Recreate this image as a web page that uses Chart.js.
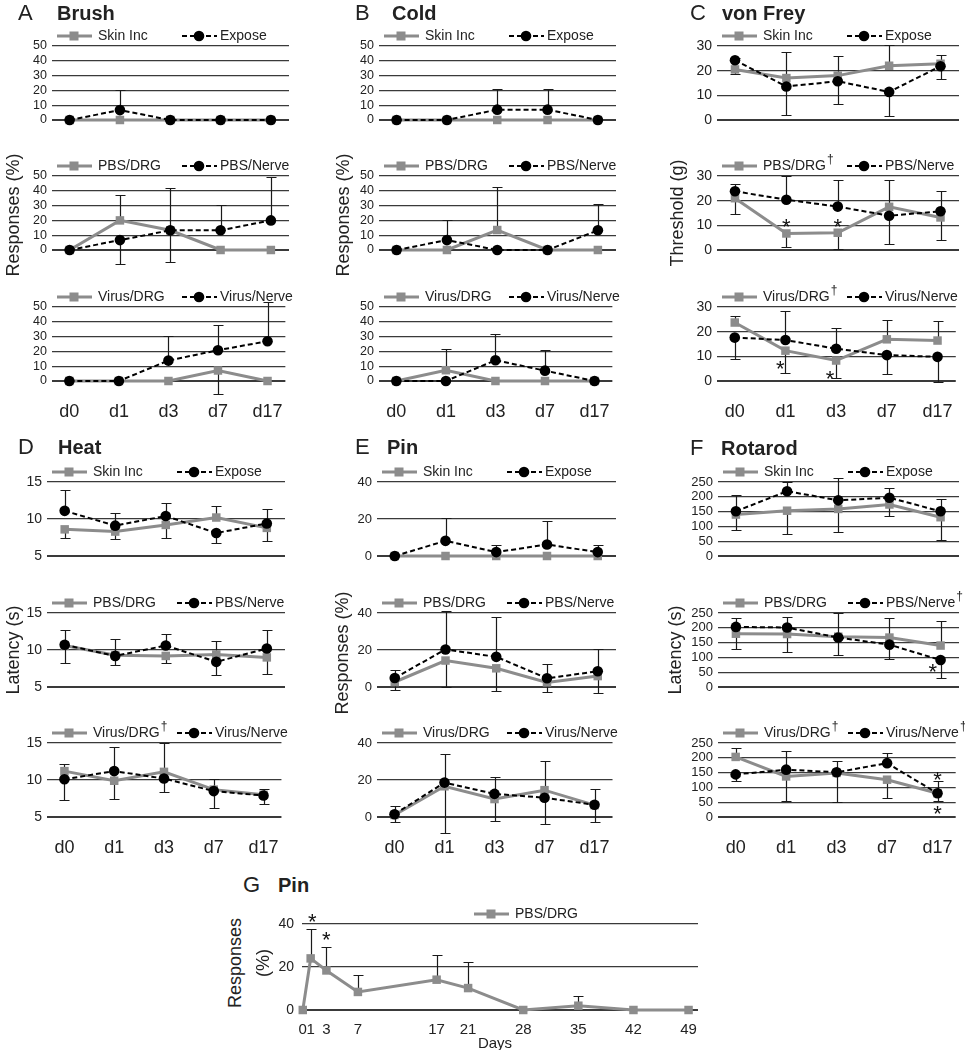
<!DOCTYPE html>
<html>
<head>
<meta charset="utf-8">
<script src="https://cdn.jsdelivr.net/npm/chart.js@4.4.1/dist/chart.umd.min.js"></script>
<style>
  body{margin:0;background:#fff;font-family:"Liberation Sans",Arial,sans-serif;color:#222;}
  #fig{position:relative;width:965px;height:1050px;overflow:hidden;}
  #fig canvas{position:absolute;}
  .txt{position:absolute;white-space:nowrap;line-height:1;}
  .vt{transform:translate(-50%,-50%) rotate(-90deg);}
</style>
</head>
<body>
<div id="fig"></div>
<script>
// ---------- data ----------
const DAYS = ["d0","d1","d3","d7","d17"];

// A Brush (% responses)
const brushSkin = [0,0,0,0,0],            brushSkinSD = [0,0,0,0,0];
const brushExpose = [0,6.7,0,0,0],        brushExposeSD = [0,13.7,0,0,0];
const brushPbsDrg = [0,20,13.3,0,0],      brushPbsDrgSD = [0,17.3,28.7,0,0];
const brushPbsNerve = [0,6.7,13.3,13.3,20], brushPbsNerveSD = [0,16.3,21.7,17.2,29];
const brushVirusDrg = [0,0,0,7.1,0],      brushVirusDrgSD = [0,0,0,15.8,0];
const brushVirusNerve = [0,0,13.8,20.8,26.9], brushVirusNerveSD = [0,0,16.7,17,26.7];

// B Cold
const coldSkin = [0,0,0,0,0],             coldSkinSD = [0,0,0,0,0];
const coldExpose = [0,0,7,7,0],           coldExposeSD = [0,0,13.8,13.8,0];
const coldPbsDrg = [0,0,13.5,0,0],        coldPbsDrgSD = [0,0,29,0,0];
const coldPbsNerve = [0,6.7,0,0,13.3],    coldPbsNerveSD = [0,13.7,0,0,17.5];
const coldVirusDrg = [0,7.3,0,0,0],       coldVirusDrgSD = [0,14,0,0,0];
const coldVirusNerve = [0,0,14,7,0],      coldVirusNerveSD = [0,0,18,14.2,0];

// C von Frey (threshold g)
const vfSkin = [20.5,17,18,22,22.8],      vfSkinSD = [1.8,10.4,8,8.3,3.7];
const vfExpose = [24.2,13.6,15.7,11.4,21.8], vfExposeSD = [1,11.4,9.2,9.8,5.1];
const vfPbsDrg = [21,6.7,7,17.5,13.2],    vfPbsDrgSD = [6.3,5.5,6.4,10.7,9];
const vfPbsNerve = [23.8,20.4,17.6,13.9,15.7], vfPbsNerveSD = [2.8,9.6,10.6,11.4,8.3];
const vfVirusDrg = [23.7,12.3,8.3,16.9,16.4], vfVirusDrgSD = [2.8,9,7.1,7.9,8.1];
const vfVirusNerve = [17.6,16.6,13.1,10.5,9.8], vfVirusNerveSD = [8.6,11.6,8.4,7.5,10.4];
const vfPbsStars = [[1,11.5],[2,11.5]];
const vfVirusStars = [[0.9,7],[1.88,3]];

// D Heat (latency s)
const heatSkin = [8.6,8.3,9.2,10.2,8.8],  heatSkinSD = [1.1,1,1.8,1.5,1.75];
const heatExpose = [11.1,9.1,10.4,8.1,9.4], heatExposeSD = [2.8,1.7,1.8,1.3,1.9];
const heatPbsDrg = [10.6,9.3,9.2,9.4,9.0], heatPbsDrgSD = [2.4,2.2,0.9,1.8,2.3];
const heatPbsNerve = [10.7,9.2,10.6,8.4,10.2], heatPbsNerveSD = [2.0,1.2,1.5,1.8,2.55];
const heatVirusDrg = [11.2,9.9,11.1,8.7,8.0], heatVirusDrgSD = [1.0,2.5,3.9,1.4,0.8];
const heatVirusNerve = [10.1,11.2,10.2,8.5,7.9], heatVirusNerveSD = [2.8,3.3,1.8,2.3,1.1];

// E Pin (% responses)
const pinSkin = [0,0,0,0,0],              pinSkinSD = [0,0,0,0,0];
const pinExpose = [0,8.2,2.1,6.2,2.1],    pinExposeSD = [0,12.2,4,12.9,4];
const pinPbsDrg = [2.7,14.3,10.1,2.5,5.9], pinPbsDrgSD = [4.5,14.3,12.4,5.2,9.1];
const pinPbsNerve = [4.9,20.3,16.3,4.7,8.5], pinPbsNerveSD = [4.3,21,21.5,7.7,12.2];
const pinVirusDrg = [1.1,16.6,9.7,14.5,6.4], pinVirusDrgSD = [3.8,25,11.7,15.9,9.3];
const pinVirusNerve = [1.5,18.6,12.5,10.4,6.6], pinVirusNerveSD = [4.6,15.7,9.3,14.1,8.4];

// F Rotarod (latency s)
const rotSkin = [140,153,159,174,131],    rotSkinSD = [52,79,78,39,76];
const rotExpose = [151,219,188,197,151],  rotExposeSD = [55,30,76,32,43];
const rotPbsDrg = [180,179,170,167,140],  rotPbsDrgSD = [50,60,80,66,82];
const rotPbsNerve = [203,201,167,143,91], rotPbsNerveSD = [29,36,58,49,60];
const rotVirusDrg = [203,137,149,126,80], rotVirusDrgSD = [31,83,99,61,40];
const rotVirusNerve = [144,160,151,182,80], rotVirusNerveSD = [22,63,38,35,26];
const rotPbsStars = [[3.85,68]];
const rotVirusStars = [[4,142],[4,29]];

// G Pin time course
const gDays = [0,1,3,7,17,21,28,35,42,49];
const gPbsDrg = [0,24,18.4,8.4,14.1,10.2,0,2,0,0];
const gPbsDrgSD = [0,13.7,11,8,11.5,12,0,4.4,0,0];
const gStars = [[1.2,43.5],[3,35]];

// ---------- drawing ----------
Chart.defaults.font.family = '"Liberation Sans", Arial, sans-serif';
Chart.defaults.color = "#222";
const fig = document.getElementById("fig");
const GRAY = "#8c8c8c";

const errorBars = {
  id:"errorBars",
  beforeDatasetsDraw(chart){
    const {ctx, scales:{x, y}} = chart;
    const ds = chart.data.datasets;
    ctx.save();
    ctx.strokeStyle = "#1a1a1a"; ctx.lineWidth = 1.2;
    ds.forEach((d,i) => {
      const other = ds.length > 1 ? ds[1-i] : null;
      d.data.forEach((pt,j) => {
        const e = d.sd[j];
        if(!e) return;
        let dir = 1;
        if(other){
          const o = other.data[j].y;
          dir = pt.y > o ? 1 : pt.y < o ? -1 : (i === 0 ? 1 : -1);
        }
        const px = Math.round(x.getPixelForValue(pt.x)) + 0.5;
        const py = y.getPixelForValue(pt.y);
        const pe = Math.round(y.getPixelForValue(pt.y + dir*e)) + 0.5;
        ctx.beginPath();
        ctx.moveTo(px, py); ctx.lineTo(px, pe);
        ctx.moveTo(px-5, pe); ctx.lineTo(px+5, pe);
        ctx.stroke();
      });
    });
    ctx.restore();
  }
};

function legendPlugin(offsets){
  return {
    id:"legendRow",
    afterDraw(chart){
      const {ctx, chartArea:{left, top}} = chart;
      const ly = top - 10;
      ctx.save();
      chart.data.datasets.forEach((d,i) => {
        const x0 = left + offsets[i];
        ctx.strokeStyle = d.borderColor; ctx.fillStyle = d.borderColor;
        ctx.lineWidth = d.borderWidth;
        ctx.setLineDash(d.borderDash || []);
        ctx.beginPath(); ctx.moveTo(x0, ly); ctx.lineTo(x0 + 35, ly); ctx.stroke();
        ctx.setLineDash([]);
        if(d.pointStyle === "rect") ctx.fillRect(x0 + 17 - 4.5, ly - 4.5, 9, 9);
        else { ctx.beginPath(); ctx.arc(x0 + 17, ly, 5.3, 0, Math.PI*2); ctx.fill(); }
        ctx.fillStyle = "#222";
        ctx.font = '14px "Liberation Sans", Arial, sans-serif';
        ctx.textBaseline = "middle"; ctx.textAlign = "left";
        const label = d.label.replace("†","");
        const tx = x0 + (d.pointStyle === "rect" ? 41 : 38);
        ctx.fillText(label, tx, ly);
        if(d.label.indexOf("†") >= 0){
          const w = ctx.measureText(label).width;
          ctx.font = '12px "Liberation Sans", Arial, sans-serif';
          ctx.fillText("†", tx + w + 1, ly - 6);
        }
      });
      ctx.restore();
    }
  };
}

function starPlugin(stars){
  return {
    id:"stars",
    afterDatasetsDraw(chart){
      if(!stars) return;
      const {ctx, scales:{x, y}} = chart;
      ctx.save();
      ctx.fillStyle = "#111";
      ctx.font = '22px "Liberation Sans", Arial, sans-serif';
      ctx.textAlign = "center"; ctx.textBaseline = "alphabetic";
      stars.forEach(([sx, sy]) => ctx.fillText("*", x.getPixelForValue(sx), y.getPixelForValue(sy) + 12.5));
      ctx.restore();
    }
  };
}

function tickList(min, max, step){
  const t = [];
  for(let v = min; v <= max + 1e-9; v += step) t.push({value:v});
  return t;
}

function series(label, vals, sd, xs, black){
  const base = {
    label, sd, clip:false, tension:0,
    data: vals.map((v,i) => ({x: xs ? xs[i] : i, y: v})),
    pointBorderWidth:0, pointHoverRadius:0
  };
  if(black) return Object.assign(base, {
    borderColor:"#000", backgroundColor:"#000", borderWidth:2, borderDash:[5,3],
    pointStyle:"circle", pointRadius:5.3, pointBackgroundColor:"#000", order:0
  });
  return Object.assign(base, {
    borderColor:GRAY, backgroundColor:GRAY, borderWidth:3,
    pointStyle:"rect", pointRadius:6, pointBackgroundColor:GRAY, order:1
  });
}

function plot(p){
  const padTop = 24, padL = 50, padR = p.padR || 4;
  const xh = p.xLabels ? (p.xh || 36) : 0;
  const padB = p.xLabels ? 0 : 18;
  const left = p.x0 - padL, top = p.y0 - padTop;
  const w = p.x1 - left + padR, h = p.y1 - top + xh + padB;
  const cv = document.createElement("canvas");
  cv.width = w; cv.height = h;
  cv.style.left = left + "px"; cv.style.top = top + "px";
  cv.style.width = w + "px"; cv.style.height = h + "px";
  fig.appendChild(cv);
  const xt = p.xTicks || [0,1,2,3,4];
  new Chart(cv, {
    type:"line",
    data:{ datasets: p.series },
    options:{
      responsive:false, animation:false, events:[],
      layout:{ padding:{ top:padTop, right:padR, bottom:padB, left:0 } },
      plugins:{ legend:{display:false}, tooltip:{enabled:false} },
      scales:{
        x:{
          type:"linear", min:p.xMin ?? -0.35, max:p.xMax ?? 4.36, display:!!p.xLabels,
          grid:{display:false}, border:{display:false},
          afterBuildTicks: a => { a.ticks = xt.map(v => ({value:v})); },
          afterFit: s => { s.height = xh; },
          ticks:{
            autoSkip:false, maxRotation:0, padding:p.xPad ?? 12,
            font:{size:p.xFont || 18}, color:"#222",
            callback: v => p.xTickLabel ? p.xTickLabel(v) : DAYS[v]
          }
        },
        y:{
          min:p.yMin, max:p.yMax,
          afterBuildTicks: a => { a.ticks = tickList(p.yMin, p.yMax, p.step); },
          afterFit: s => { s.width = padL; },
          border:{display:false},
          grid:{ color:"#3a3a3a", drawTicks:false, lineWidth: c => c.index === 0 ? 2 : 1.3 },
          ticks:{ autoSkip:false, padding:p.yPad || 5, font:{size:p.yFont || 13}, color:"#222" }
        }
      }
    },
    plugins:[errorBars, legendPlugin(p.legendX || [5,130]), starPlugin(p.stars)]
  });
}

function trio(cfg){
  cfg.rows.forEach((r,k) => {
    const [g, b] = cfg.sets[k];
    plot({
      x0:cfg.cols[0], x1:cfg.cols[1], y0:r[0], y1:r[1],
      yMin:cfg.yMin, yMax:cfg.yMax, step:cfg.step, yFont:cfg.yFont,
      xLabels: k === 2, stars: cfg.stars ? cfg.stars[k] : null,
      series:[ series(g[0], g[1], g[2], null, false), series(b[0], b[1], b[2], null, true) ]
    });
  });
}

const ROW1 = [[46,120],[176,250],[307,381]];
const ROW2 = [[482,556],[613,687],[743,817]];

trio({ cols:[52,291], rows:ROW1, yMin:0, yMax:50, step:10, yFont:12.5, sets:[
  [["Skin Inc",brushSkin,brushSkinSD],["Expose",brushExpose,brushExposeSD]],
  [["PBS/DRG",brushPbsDrg,brushPbsDrgSD],["PBS/Nerve",brushPbsNerve,brushPbsNerveSD]],
  [["Virus/DRG",brushVirusDrg,brushVirusDrgSD],["Virus/Nerve",brushVirusNerve,brushVirusNerveSD]] ]});

trio({ cols:[379,618], rows:ROW1, yMin:0, yMax:50, step:10, yFont:12.5, sets:[
  [["Skin Inc",coldSkin,coldSkinSD],["Expose",coldExpose,coldExposeSD]],
  [["PBS/DRG",coldPbsDrg,coldPbsDrgSD],["PBS/Nerve",coldPbsNerve,coldPbsNerveSD]],
  [["Virus/DRG",coldVirusDrg,coldVirusDrgSD],["Virus/Nerve",coldVirusNerve,coldVirusNerveSD]] ]});

trio({ cols:[717,961], rows:ROW1, yMin:0, yMax:30, step:10, yFont:14,
  stars:[null, vfPbsStars, vfVirusStars], sets:[
  [["Skin Inc",vfSkin,vfSkinSD],["Expose",vfExpose,vfExposeSD]],
  [["PBS/DRG†",vfPbsDrg,vfPbsDrgSD],["PBS/Nerve",vfPbsNerve,vfPbsNerveSD]],
  [["Virus/DRG†",vfVirusDrg,vfVirusDrgSD],["Virus/Nerve",vfVirusNerve,vfVirusNerveSD]] ]});

trio({ cols:[47,287], rows:ROW2, yMin:5, yMax:15, step:5, yFont:14, sets:[
  [["Skin Inc",heatSkin,heatSkinSD],["Expose",heatExpose,heatExposeSD]],
  [["PBS/DRG",heatPbsDrg,heatPbsDrgSD],["PBS/Nerve",heatPbsNerve,heatPbsNerveSD]],
  [["Virus/DRG†",heatVirusDrg,heatVirusDrgSD],["Virus/Nerve",heatVirusNerve,heatVirusNerveSD]] ]});

trio({ cols:[377,618], rows:ROW2, yMin:0, yMax:40, step:20, yFont:13, sets:[
  [["Skin Inc",pinSkin,pinSkinSD],["Expose",pinExpose,pinExposeSD]],
  [["PBS/DRG",pinPbsDrg,pinPbsDrgSD],["PBS/Nerve",pinPbsNerve,pinPbsNerveSD]],
  [["Virus/DRG",pinVirusDrg,pinVirusDrgSD],["Virus/Nerve",pinVirusNerve,pinVirusNerveSD]] ]});

trio({ cols:[718,961], rows:ROW2, yMin:0, yMax:250, step:50, yFont:13,
  stars:[null, rotPbsStars, rotVirusStars], sets:[
  [["Skin Inc",rotSkin,rotSkinSD],["Expose",rotExpose,rotExposeSD]],
  [["PBS/DRG",rotPbsDrg,rotPbsDrgSD],["PBS/Nerve†",rotPbsNerve,rotPbsNerveSD]],
  [["Virus/DRG†",rotVirusDrg,rotVirusDrgSD],["Virus/Nerve†",rotVirusNerve,rotVirusNerveSD]] ]});

// G
plot({
  x0:302, x1:700, y0:924, y1:1010, yMin:0, yMax:40, step:20, yFont:14, yPad:8,
  xMin:-0.1, xMax:50.2, xTicks:gDays, xLabels:true, xh:26, xPad:3, xFont:15,
  xTickLabel: v => String(v), legendX:[172], stars:gStars,
  series:[ series("PBS/DRG", gPbsDrg, gPbsDrgSD, gDays, false) ]
});

// ---------- text ----------
function text(str, x, y, size, extra){
  const d = document.createElement("div");
  d.className = "txt";
  d.textContent = str;
  d.style.left = x + "px"; d.style.top = y + "px";
  d.style.fontSize = size + "px";
  if(extra) Object.assign(d.style, extra);
  fig.appendChild(d);
  return d;
}
function vtext(str, cx, cy, size){
  const d = text(str, cx, cy, size);
  d.classList.add("vt");
}
const titles = [
  ["A","Brush",18,57,13],["B","Cold",355,392,13],["C","von Frey",690,722,13],
  ["D","Heat",18,58,447],["E","Pin",355,387,447],["F","Rotarod",690,721,448],
  ["G","Pin",243,278,885]
];
titles.forEach(([l,t,lx,tx,cy]) => {
  text(l, lx, cy, 22, {transform:"translateY(-50%)"});
  text(t, tx, cy, 20, {transform:"translateY(-50%)", fontWeight:"bold"});
});
vtext("Responses (%)", 13, 215, 18);
vtext("Responses (%)", 343, 215, 18);
vtext("Threshold (g)", 677, 213, 18);
vtext("Latency (s)", 13, 650, 18);
vtext("Responses (%)", 342, 653, 18);
vtext("Latency (s)", 675, 650, 18);
vtext("Responses", 235, 963, 18);
vtext("(%)", 263, 963, 18);
text("Days", 495, 1042, 15, {transform:"translate(-50%,-50%)"});
</script>
</body>
</html>
